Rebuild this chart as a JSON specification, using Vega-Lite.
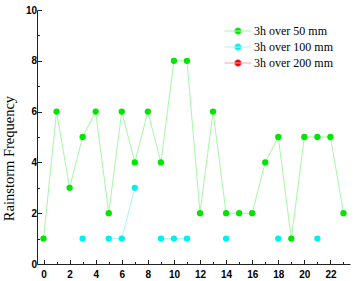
{
  "$schema": "https://vega.github.io/schema/vega-lite/v6.json",
  "width": 313,
  "height": 254,
  "autosize": {"type": "none"},
  "padding": {"left": 37, "top": 10, "right": 4, "bottom": 17},
  "background": "white",
  "config": {
    "view": {"stroke": null},
    "axis": {
      "grid": false,
      "domainColor": "#222",
      "tickColor": "#222",
      "labelFont": "Liberation Sans",
      "labelFontSize": 10,
      "labelColor": "#000",
      "titleFont": "Liberation Serif",
      "titleFontSize": 14.5,
      "titleFontWeight": "normal",
      "titleColor": "#000"
    }
  },
  "data": {
    "values": [
      {"hour": 0, "series": "3h over 50 mm", "count": 1},
      {"hour": 1, "series": "3h over 50 mm", "count": 6},
      {"hour": 2, "series": "3h over 50 mm", "count": 3},
      {"hour": 3, "series": "3h over 50 mm", "count": 5},
      {"hour": 4, "series": "3h over 50 mm", "count": 6},
      {"hour": 5, "series": "3h over 50 mm", "count": 2},
      {"hour": 6, "series": "3h over 50 mm", "count": 6},
      {"hour": 7, "series": "3h over 50 mm", "count": 4},
      {"hour": 8, "series": "3h over 50 mm", "count": 6},
      {"hour": 9, "series": "3h over 50 mm", "count": 4},
      {"hour": 10, "series": "3h over 50 mm", "count": 8},
      {"hour": 11, "series": "3h over 50 mm", "count": 8},
      {"hour": 12, "series": "3h over 50 mm", "count": 2},
      {"hour": 13, "series": "3h over 50 mm", "count": 6},
      {"hour": 14, "series": "3h over 50 mm", "count": 2},
      {"hour": 15, "series": "3h over 50 mm", "count": 2},
      {"hour": 16, "series": "3h over 50 mm", "count": 2},
      {"hour": 17, "series": "3h over 50 mm", "count": 4},
      {"hour": 18, "series": "3h over 50 mm", "count": 5},
      {"hour": 19, "series": "3h over 50 mm", "count": 1},
      {"hour": 20, "series": "3h over 50 mm", "count": 5},
      {"hour": 21, "series": "3h over 50 mm", "count": 5},
      {"hour": 22, "series": "3h over 50 mm", "count": 5},
      {"hour": 23, "series": "3h over 50 mm", "count": 2},
      {"hour": 2, "series": "3h over 100 mm", "count": null},
      {"hour": 3, "series": "3h over 100 mm", "count": 1},
      {"hour": 4, "series": "3h over 100 mm", "count": null},
      {"hour": 5, "series": "3h over 100 mm", "count": 1},
      {"hour": 6, "series": "3h over 100 mm", "count": 1},
      {"hour": 7, "series": "3h over 100 mm", "count": 3},
      {"hour": 8, "series": "3h over 100 mm", "count": null},
      {"hour": 9, "series": "3h over 100 mm", "count": 1},
      {"hour": 10, "series": "3h over 100 mm", "count": 1},
      {"hour": 11, "series": "3h over 100 mm", "count": 1},
      {"hour": 12, "series": "3h over 100 mm", "count": null},
      {"hour": 14, "series": "3h over 100 mm", "count": 1},
      {"hour": 15, "series": "3h over 100 mm", "count": null},
      {"hour": 18, "series": "3h over 100 mm", "count": 1},
      {"hour": 19, "series": "3h over 100 mm", "count": null},
      {"hour": 21, "series": "3h over 100 mm", "count": 1},
      {"hour": 22, "series": "3h over 100 mm", "count": null},
      {"hour": 0, "series": "3h over 200 mm", "count": null}
    ]
  },
  "encoding": {
    "x": {
      "field": "hour", "type": "quantitative",
      "scale": {"domain": [-0.5, 23.5], "nice": false, "zero": false},
      "axis": {
        "title": null,
        "values": [0,1,2,3,4,5,6,7,8,9,10,11,12,13,14,15,16,17,18,19,20,21,22,23],
        "labelExpr": "datum.value % 2 == 0 ? datum.label : ''",
        "tickSize": {"condition": {"test": "datum.value % 2 == 1", "value": -2.5}, "value": -4.5},
        "labelPadding": 10,
        "labelFontWeight": "bold"
      }
    },
    "y": {
      "field": "count", "type": "quantitative",
      "scale": {"domain": [0, 10], "nice": false},
      "axis": {
        "title": "Rainstorm Frequency",
        "values": [0,1,2,3,4,5,6,7,8,9,10],
        "labelExpr": "datum.value % 2 == 0 ? datum.label : ''",
        "tickSize": {"condition": {"test": "datum.value % 2 == 1", "value": -2.5}, "value": -4.5},
        "labelPadding": 5,
        "titleX": -21,
        "titleY": 148,
        "titleAlign": "center",
        "labelFontWeight": "bold"
      }
    }
  },
  "layer": [
    {
      "mark": {"type": "line", "strokeWidth": 1},
      "encoding": {
        "stroke": {
          "field": "series", "type": "nominal",
          "scale": {
            "domain": ["3h over 50 mm", "3h over 100 mm", "3h over 200 mm"],
            "range": ["#a6f7a6", "#a6f7f7", "#f7a6a6"]
          },
          "legend": {
            "title": null,
            "orient": "none",
            "legendX": 195,
            "legendY": 15,
            "padding": 0,
            "symbolType": "M-3,0L3,0M0.78,0A0.78,0.78,0,1,1,-0.78,0A0.78,0.78,0,1,1,0.78,0Z",
            "symbolSize": 81,
            "symbolStrokeWidth": 1,
            "labelFont": "Liberation Serif",
            "labelFontSize": 12,
            "labelColor": "#000",
            "labelOffset": 10,
            "rowPadding": 4
          }
        }
      }
    },
    {
      "mark": {"type": "point", "filled": true, "size": 40, "opacity": 1},
      "encoding": {
        "fill": {
          "field": "series", "type": "nominal",
          "scale": {
            "domain": ["3h over 50 mm", "3h over 100 mm", "3h over 200 mm"],
            "range": ["#00e600", "#00f0f0", "#f00000"]
          },
          "legend": {
            "title": null,
            "orient": "none",
            "legendX": 195,
            "legendY": 15,
            "padding": 0,
            "symbolType": "M-3,0L3,0M0.78,0A0.78,0.78,0,1,1,-0.78,0A0.78,0.78,0,1,1,0.78,0Z",
            "symbolSize": 81,
            "symbolStrokeWidth": 1,
            "labelFont": "Liberation Serif",
            "labelFontSize": 12,
            "labelColor": "#000",
            "labelOffset": 10,
            "rowPadding": 4
          }
        }
      }
    }
  ]
}
